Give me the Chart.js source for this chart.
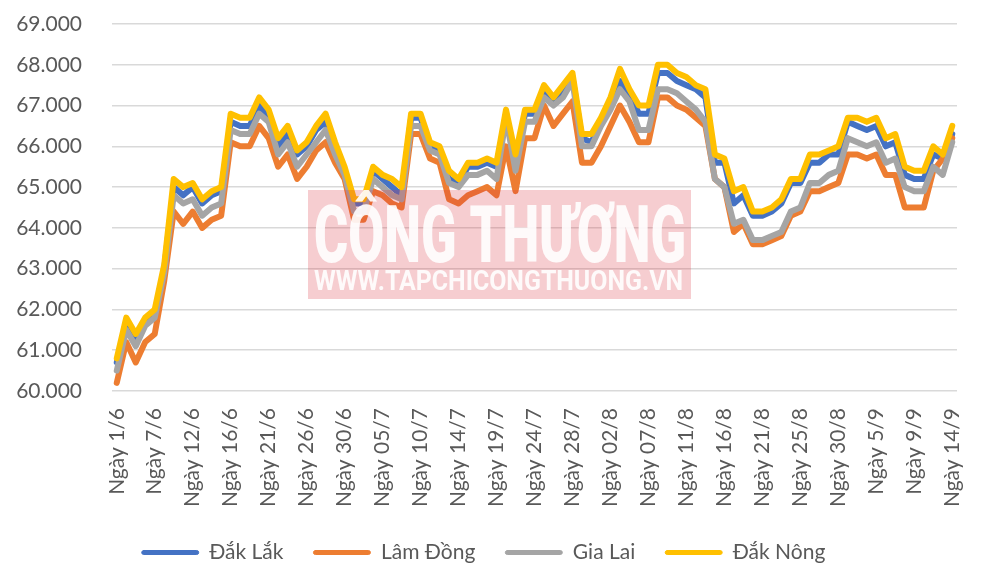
<!DOCTYPE html>
<html lang="vi">
<head>
    <meta charset="UTF-8">
    <title>Giá cà phê</title>
    <script src="https://cdn.jsdelivr.net/npm/chart.js"></script>
    <style>
        html, body { margin: 0; padding: 0; background: #fff; }
        #wrap { width: 1000px; height: 581px; position: relative; }
    </style>
</head>
<body>
<div id="wrap"><canvas id="priceChart"></canvas></div>

<script>
    // dates (Mon-Sat trading days), one label shown every 4 points
    var labels = [
        'Ngày 1/6','Ngày 2/6','Ngày 5/6','Ngày 6/6','Ngày 7/6','Ngày 8/6','Ngày 9/6','Ngày 10/6','Ngày 12/6','Ngày 13/6',
        'Ngày 14/6','Ngày 15/6','Ngày 16/6','Ngày 17/6','Ngày 19/6','Ngày 20/6','Ngày 21/6','Ngày 22/6','Ngày 23/6','Ngày 24/6',
        'Ngày 26/6','Ngày 27/6','Ngày 28/6','Ngày 29/6','Ngày 30/6','Ngày 01/7','Ngày 03/7','Ngày 04/7','Ngày 05/7','Ngày 06/7',
        'Ngày 07/7','Ngày 08/7','Ngày 10/7','Ngày 11/7','Ngày 12/7','Ngày 13/7','Ngày 14/7','Ngày 15/7','Ngày 17/7','Ngày 18/7',
        'Ngày 19/7','Ngày 20/7','Ngày 21/7','Ngày 22/7','Ngày 24/7','Ngày 25/7','Ngày 26/7','Ngày 27/7','Ngày 28/7','Ngày 29/7',
        'Ngày 31/7','Ngày 01/8','Ngày 02/8','Ngày 03/8','Ngày 04/8','Ngày 05/8','Ngày 07/8','Ngày 08/8','Ngày 09/8','Ngày 10/8',
        'Ngày 11/8','Ngày 12/8','Ngày 14/8','Ngày 15/8','Ngày 16/8','Ngày 17/8','Ngày 18/8','Ngày 19/8','Ngày 21/8','Ngày 22/8',
        'Ngày 23/8','Ngày 24/8','Ngày 25/8','Ngày 26/8','Ngày 28/8','Ngày 29/8','Ngày 30/8','Ngày 31/8','Ngày 1/9','Ngày 4/9',
        'Ngày 5/9','Ngày 6/9','Ngày 7/9','Ngày 8/9','Ngày 9/9','Ngày 11/9','Ngày 12/9','Ngày 13/9','Ngày 14/9'
    ];

    var dakLak = [
        60700,61700,61300,61700,61900,63000,65000,64800,65000,64600,
        64800,64900,66600,66500,66500,67000,66700,66000,66300,65800,
        66000,66400,66600,66000,65400,64600,64600,65400,65200,65000,
        64800,66700,66700,66000,65900,65200,65100,65500,65500,65600,
        65500,66800,65600,66800,66800,67400,67100,67400,67700,66200,
        66100,66600,67100,67600,67300,66800,66800,67800,67800,67600,
        67500,67400,67200,65600,65600,64600,64800,64300,64300,64400,
        64600,65100,65100,65600,65600,65800,65800,66600,66500,66400,
        66500,66000,66100,65300,65200,65200,65800,65700,66300
    ];
    var lamDong = [
        60200,61200,60700,61200,61400,62700,64400,64100,64400,64000,
        64200,64300,66100,66000,66000,66500,66200,65500,65800,65200,
        65500,65900,66100,65600,65200,64200,64200,64900,64800,64600,
        64500,66300,66300,65700,65600,64700,64600,64800,64900,65000,
        64800,66000,64900,66200,66200,67000,66500,66800,67100,65600,
        65600,66000,66500,67000,66600,66100,66100,67200,67200,67000,
        66900,66700,66500,65200,65000,63900,64100,63600,63600,63700,
        63800,64300,64400,64900,64900,65000,65100,65800,65800,65700,
        65800,65300,65300,64500,64500,64500,65400,65700,66200
    ];
    var giaLai = [
        60500,61500,61100,61600,61800,62900,64800,64600,64700,64300,
        64500,64600,66400,66300,66300,66800,66600,65800,66100,65500,
        65800,66100,66400,65800,65300,64400,64400,65200,65000,64800,
        64700,66500,66500,65900,65800,65100,65000,65300,65300,65400,
        65200,66700,65400,66600,66600,67200,67000,67200,67600,66000,
        66000,66500,66900,67400,67100,66400,66400,67400,67400,67300,
        67100,66900,66600,65200,65000,64100,64200,63700,63700,63800,
        63900,64400,64500,65100,65100,65300,65400,66200,66100,66000,
        66100,65600,65700,65000,64900,64900,65500,65300,66100
    ];
    var dakNong = [
        60800,61800,61400,61800,62000,63100,65200,65000,65100,64700,
        64900,65000,66800,66700,66700,67200,66900,66200,66500,65900,
        66100,66500,66800,66100,65500,64700,64700,65500,65300,65200,
        65000,66800,66800,66100,66000,65400,65200,65600,65600,65700,
        65600,66900,65800,66900,66900,67500,67200,67500,67800,66300,
        66300,66700,67200,67900,67400,67000,67000,68000,68000,67800,
        67700,67500,67400,65800,65700,64900,65000,64400,64400,64500,
        64700,65200,65200,65800,65800,65900,66000,66700,66700,66600,
        66700,66200,66300,65500,65400,65400,66000,65800,66500
    ];

    var seriesNames = ['Đắk Lắk', 'Lâm Đồng', 'Gia Lai', 'Đắk Nông'];
    var seriesColors = ['#4472C4', '#ED7D31', '#A5A5A5', '#FFC000'];
    var yMin = 60000, yMax = 69000, yStep = 1000;

    var textColor = '#595959';
    var fontFamily = 'Lato, "Open Sans", sans-serif';

    function makeDataset(i, values) {
        return {
            label: seriesNames[i],
            data: values,
            order: 3 - i, // later series painted on top, like Excel
            borderColor: seriesColors[i],
            backgroundColor: seriesColors[i],
            borderWidth: 6,
            borderJoinStyle: 'round',
            borderCapStyle: 'round',
            pointRadius: 0,
            pointHoverRadius: 0,
            tension: 0,
            fill: false
        };
    }

    function formatVnd(v) {
        return String(Math.round(v)).replace(/\B(?=(\d{3})+(?!\d))/g, '.');
    }

    // semi transparent stamp over the plot
    var watermark = {
        id: 'watermark',
        afterDraw: function(chart) {
            var ctx = chart.ctx;
            ctx.save();
            ctx.fillStyle = 'rgba(219, 55, 67, 0.25)';
            ctx.fillRect(308, 190, 383, 109);

            ctx.fillStyle = 'rgba(255, 255, 255, 0.9)';
            ctx.textBaseline = 'alphabetic';
            ctx.textAlign = 'left';

            ctx.font = '900 80px Roboto, sans-serif';
            var t1 = 'CÔNG THƯƠNG';
            var w1 = ctx.measureText(t1).width;
            ctx.save();
            ctx.translate(314, 262);
            ctx.scale(372 / w1, 1);
            ctx.fillText(t1, 0, 0);
            ctx.restore();

            ctx.font = 'bold 27px Roboto, sans-serif';
            var t2 = 'WWW.TAPCHICONGTHUONG.VN';
            var w2 = ctx.measureText(t2).width;
            ctx.save();
            ctx.translate(314, 290);
            ctx.scale(369 / w2, 1);
            ctx.fillText(t2, 0, 0);
            ctx.restore();

            ctx.restore();
        }
    };

    var ctx = document.getElementById('priceChart').getContext('2d');
    var priceChart = new Chart(ctx, {
        type: 'line',
        data: {
            labels: labels,
            datasets: [
                makeDataset(0, dakLak),
                makeDataset(1, lamDong),
                makeDataset(2, giaLai),
                makeDataset(3, dakNong)
            ]
        },
        options: {
            responsive: true,
            maintainAspectRatio: false,
            animation: false,
            layout: { padding: { left: 10, right: 43, top: 24, bottom: 8 } },
            scales: {
                x: {
                    offset: true,
                    grid: { display: false, drawTicks: false },
                    border: { display: false },
                    ticks: {
                        autoSkip: false,
                        minRotation: 90,
                        maxRotation: 90,
                        padding: 17,
                        color: textColor,
                        font: { family: fontFamily, size: 21 },
                        callback: function(val, index) {
                            return index % 4 === 0 ? this.getLabelForValue(val) : null;
                        }
                    },
                    afterFit: function(scale) { scale.height = 121; }
                },
                y: {
                    min: yMin,
                    max: yMax,
                    grid: { color: '#D9D9D9', lineWidth: 1.5, drawTicks: false },
                    border: { display: false },
                    ticks: {
                        stepSize: yStep,
                        padding: 30,
                        color: textColor,
                        font: { family: fontFamily, size: 21 },
                        callback: function(v) { return formatVnd(v); }
                    },
                    afterFit: function(scale) {
                        scale.width = 102;
                        scale.paddingTop = 0;
                        scale.paddingBottom = 0;
                    }
                }
            },
            plugins: {
                tooltip: { enabled: false },
                legend: {
                    position: 'bottom',
                    labels: {
                        boxWidth: 57,
                        boxHeight: 4,
                        useBorderRadius: true,
                        borderRadius: 2,
                        padding: 30,
                        color: textColor,
                        font: { family: fontFamily, size: 21 },
                        sort: function(a, b) { return a.datasetIndex - b.datasetIndex; },
                        generateLabels: function(chart) {
                            var items = Chart.defaults.plugins.legend.labels.generateLabels(chart);
                            items.forEach(function(it) {
                                it.fillStyle = it.strokeStyle;
                                it.lineWidth = 1;
                                it.lineCap = 'round';
                                it.lineDash = [];
                                it.lineJoin = 'round';
                            });
                            return items;
                        }
                    }
                }
            }
        },
        plugins: [watermark]
    });
</script>
</body>
</html>
